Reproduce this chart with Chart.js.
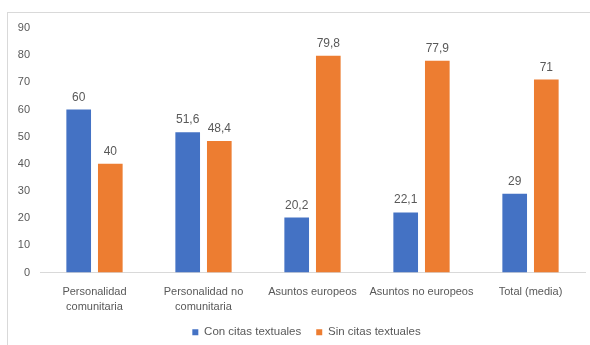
<!DOCTYPE html>
<html>
<head>
<meta charset="utf-8">
<script src="https://cdn.jsdelivr.net/npm/chart.js@4/dist/chart.umd.min.js"></script>
<style>
  html, body { margin: 0; padding: 0; background: #fff; overflow: hidden; }
  #wrap { position: relative; width: 590px; height: 345px; overflow: hidden; }
  #frame { position: absolute; left: 7px; top: 12px; right: 0; bottom: 0;
           border-top: 1px solid #d9d9d9; border-left: 1px solid #d9d9d9; pointer-events: none; }
  canvas { position: absolute; left: 0; top: 0; }
</style>
</head>
<body>
<div id="wrap">
  <canvas id="c" width="590" height="348"></canvas>
  <div id="frame"></div>
</div>
<script>
const categories = [
  ['Personalidad', 'comunitaria'],
  ['Personalidad no', 'comunitaria'],
  'Asuntos europeos',
  'Asuntos no europeos',
  'Total (media)'
];
const seriesNames = ['Con citas textuales', 'Sin citas textuales'];
const conCitas = [60, 51.6, 20.2, 22.1, 29];
const sinCitas = [40, 48.4, 79.8, 77.9, 71];
const yTicks = [0, 10, 20, 30, 40, 50, 60, 70, 80, 90];

const textColor = '#595959';
const fontFamily = "'Liberation Sans', Arial, sans-serif";

// Writes each bar's value above it, with a decimal comma
const valueLabels = {
  id: 'valueLabels',
  afterDatasetsDraw(chart) {
    const ctx = chart.ctx;
    ctx.save();
    ctx.font = '12px ' + fontFamily;
    ctx.fillStyle = textColor;
    ctx.textAlign = 'center';
    ctx.textBaseline = 'alphabetic';
    chart.data.datasets.forEach((ds, di) => {
      chart.getDatasetMeta(di).data.forEach((bar, i) => {
        const txt = String(ds.data[i]).replace('.', ',');
        ctx.fillText(txt, bar.x, bar.y - 9);
      });
    });
    ctx.restore();
  }
};

// Centres the legend under the whole frame, a little right of the canvas middle
const legendShift = {
  id: 'legendShift',
  afterLayout(chart) {
    chart.legend.left += 14;
    chart.legend.right += 14;
  }
};

new Chart(document.getElementById('c'), {
  type: 'bar',
  data: {
    labels: categories,
    datasets: [
      { label: seriesNames[0], data: conCitas, backgroundColor: '#4472C4',
        barPercentage: 0.78, categoryPercentage: 0.58 },
      { label: seriesNames[1], data: sinCitas, backgroundColor: '#ED7D31',
        barPercentage: 0.78, categoryPercentage: 0.58 }
    ]
  },
  options: {
    responsive: false,
    animation: false,
    devicePixelRatio: 1,
    layout: { padding: { left: 0, right: 5, top: 28, bottom: 0 } },
    plugins: {
      tooltip: { enabled: false },
      legend: {
        position: 'bottom',
        labels: {
          boxWidth: 6, boxHeight: 6, padding: 15,
          color: textColor,
          font: { size: 11.5, family: fontFamily }
        }
      }
    },
    scales: {
      x: {
        afterFit(scale) { scale.height = 39; },
        grid: { display: false },
        border: { color: '#d9d9d9' },
        ticks: { color: textColor, font: { size: 11, family: fontFamily, lineHeight: 1.35 },
                 padding: 4, maxRotation: 0, autoSkip: false }
      },
      y: {
        min: 0, max: 90,
        afterBuildTicks(scale) { scale.ticks = yTicks.map(v => ({ value: v })); },
        afterFit(scale) { scale.width = 40; },
        grid: { display: false, drawTicks: false },
        border: { display: false },
        ticks: { color: textColor, font: { size: 11, family: fontFamily }, padding: 10 }
      }
    }
  },
  plugins: [valueLabels, legendShift]
});
</script>
</body>
</html>
